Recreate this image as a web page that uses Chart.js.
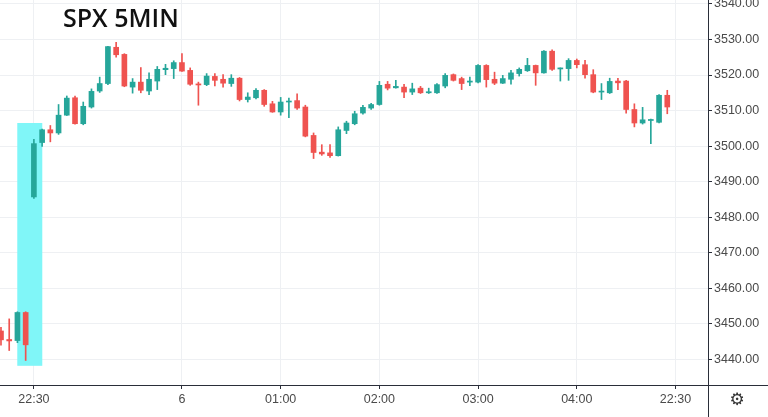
<!DOCTYPE html>
<html>
<head>
<meta charset="utf-8">
<script src="https://cdn.jsdelivr.net/npm/chart.js@4/dist/chart.umd.min.js"></script>
<style>
  html, body { margin: 0; padding: 0; background: #fff; }
  canvas { display: block; }
</style>
</head>
<body>
<canvas id="c" width="768" height="417"></canvas>
<script>
// SPX 5-minute candles
const opens = [3448.0,3445.6,3445.3,3453.2,3485.7,3501.0,3504.6,3503.7,3508.7,3513.6,
  3506.3,3511.0,3515.5,3517.6,3527.8,3525.8,3516.6,3518.0,3515.5,3518.3,
  3521.5,3521.8,3523.5,3521.3,3517.5,3517.3,3519.6,3518.8,3517.6,3519.1,
  3513.1,3513.6,3515.7,3511.9,3509.6,3512.4,3512.8,3511.0,3503.0,3498.3,
  3498.1,3497.3,3504.4,3506.3,3509.3,3510.7,3511.7,3517.4,3516.4,3516.6,
  3515.2,3516.3,3515.0,3515.0,3516.9,3520.1,3519.0,3518.0,3518.0,3522.7,
  3518.8,3517.7,3518.8,3520.4,3521.2,3522.7,3520.6,3526.7,3521.7,3521.8,
  3524.1,3522.9,3520.1,3515.2,3515.0,3518.3,3518.3,3510.3,3506.5,3507.2,
  3506.7,3514.3];
const closes = [3445.5,3445.2,3453.2,3444.1,3500.7,3504.6,3503.7,3508.7,3513.5,3506.3,
  3511.2,3515.4,3517.6,3528.0,3525.7,3516.9,3518.0,3515.7,3518.8,3521.6,
  3521.9,3523.5,3521.1,3517.4,3517.2,3519.7,3518.5,3517.7,3519.1,3513.1,
  3513.8,3515.7,3511.7,3509.6,3512.4,3512.6,3510.7,3502.8,3498.2,3497.8,
  3497.3,3504.6,3506.5,3509.1,3510.9,3511.7,3517.1,3516.3,3516.8,3515.2,
  3516.1,3515.0,3515.3,3517.3,3519.9,3518.5,3517.6,3518.3,3522.7,3518.7,
  3517.7,3519.0,3520.6,3521.6,3522.7,3520.6,3526.7,3521.6,3522.0,3524.1,
  3522.9,3520.1,3515.2,3515.4,3518.2,3517.8,3510.3,3506.5,3507.4,3507.5,
  3514.3,3511.0];
const highs = [3449.0,3451.4,3453.4,3453.4,3501.9,3504.8,3505.8,3511.7,3514.1,3514.1,
  3512.4,3516.1,3519.4,3528.1,3529.2,3526.0,3519.0,3522.1,3520.6,3522.4,
  3523.0,3524.0,3526.0,3522.0,3518.0,3520.4,3520.4,3520.1,3520.1,3519.3,
  3515.0,3516.2,3515.9,3512.6,3513.7,3513.5,3514.7,3511.5,3503.7,3500.4,
  3500.4,3505.4,3507.0,3509.8,3511.5,3512.0,3518.2,3518.2,3518.5,3517.4,
  3517.7,3516.8,3516.3,3517.6,3520.4,3520.3,3519.4,3519.4,3522.9,3522.9,
  3520.8,3519.9,3521.3,3522.0,3524.7,3522.8,3526.9,3527.1,3522.0,3524.6,
  3524.5,3524.1,3521.5,3517.6,3519.1,3519.1,3518.5,3511.9,3510.9,3507.6,
  3514.5,3515.7];
const lows = [3444.0,3442.5,3444.7,3439.7,3485.3,3499.9,3501.2,3503.3,3508.6,3506.2,
  3506.0,3510.7,3515.1,3517.3,3525.0,3516.7,3514.9,3515.0,3514.5,3515.9,
  3520.1,3519.0,3521.0,3517.1,3511.5,3517.0,3516.9,3516.6,3516.8,3512.7,
  3512.4,3513.3,3511.2,3509.5,3508.7,3508.0,3510.3,3502.6,3496.5,3497.4,
  3496.8,3497.2,3503.5,3506.0,3509.0,3510.3,3511.5,3515.8,3516.3,3513.6,
  3514.5,3514.8,3514.8,3514.8,3516.4,3518.3,3515.9,3517.0,3517.8,3516.6,
  3517.3,3517.6,3517.4,3519.7,3521.0,3517.1,3520.5,3521.3,3518.3,3518.5,
  3522.0,3519.1,3515.0,3513.1,3514.8,3515.9,3509.3,3505.4,3506.2,3500.7,
  3506.5,3509.1];

const xTickIdx = [4, 22, 34, 46, 58, 70, 82];
const xTickLabels = ['22:30', '6', '01:00', '02:00', '03:00', '04:00', '22:30'];
const yTicks = [3440, 3450, 3460, 3470, 3480, 3490, 3500, 3510, 3520, 3530, 3540];

// highlighted box around the opening gap (candle index / price)
const hlRange = [1.98, 5.02];
const hlPrice = [3438.2, 3506.5];

const UP = '#26a69a', DOWN = '#ef5350';
const candleColors = opens.map((o, i) => closes[i] >= o ? UP : DOWN);

const bodies = opens.map((o, i) => ({ x: i, y: [o, closes[i]] }));
const wicks = lows.map((l, i) => ({ x: i, y: [l, highs[i]] }));

const highlightPlugin = {
  id: 'highlight',
  beforeDatasetsDraw(chart) {
    const { ctx, scales: { x, y } } = chart;
    const x0 = x.getPixelForValue(hlRange[0]), x1 = x.getPixelForValue(hlRange[1]);
    const y0 = y.getPixelForValue(hlPrice[1]), y1 = y.getPixelForValue(hlPrice[0]);
    ctx.save();
    ctx.fillStyle = '#80f6f8';
    ctx.fillRect(x0, y0, x1 - x0, y1 - y0);
    ctx.restore();
  }
};

const decorPlugin = {
  id: 'decor',
  afterDraw(chart) {
    const { ctx, chartArea } = chart;
    ctx.save();
    ctx.strokeStyle = '#2a2e39';
    ctx.lineWidth = 1;
    ctx.beginPath();
    ctx.moveTo(Math.round(chartArea.right) + 0.5, 0);
    ctx.lineTo(Math.round(chartArea.right) + 0.5, chart.height);
    ctx.moveTo(0, Math.round(chartArea.bottom) + 0.5);
    ctx.lineTo(chart.width, Math.round(chartArea.bottom) + 0.5);
    ctx.stroke();

    // title
    ctx.fillStyle = '#111';
    ctx.font = '600 25px "Open Sans"';
    ctx.textBaseline = 'alphabetic';
    ctx.fillText('SPX 5MIN', 63, 27);

    // settings gear
    ctx.fillStyle = '#333';
    ctx.font = '17px "DejaVu Sans"';
    ctx.textAlign = 'center';
    ctx.textBaseline = 'middle';
    ctx.fillText('⚙', 737, 401);
    ctx.restore();
  }
};

new Chart(document.getElementById('c'), {
  type: 'bar',
  data: {
    datasets: [
      {
        data: wicks,
        backgroundColor: candleColors,
        barThickness: 1,
        grouped: false,
        borderWidth: 0
      },
      {
        data: bodies,
        backgroundColor: candleColors,
        barThickness: 5,
        grouped: false,
        borderWidth: 0,
        minBarLength: 1
      }
    ]
  },
  options: {
    responsive: false,
    animation: false,
    layout: { padding: 0 },
    plugins: {
      legend: { display: false },
      tooltip: { enabled: false }
    },
    scales: {
      x: {
        type: 'linear',
        offset: false,
        min: -0.12,
        max: 85.95,
        afterBuildTicks: s => { s.ticks = xTickIdx.map(v => ({ value: v })); },
        afterFit: s => { s.height = 32; s.paddingLeft = 0; s.paddingRight = 0; },
        grid: {
          offset: false,
          color: '#eef0f3',
          tickColor: '#2a2e39',
          tickLength: 4,
          drawOnChartArea: true
        },
        border: { display: true, color: '#2a2e39' },
        ticks: {
          autoSkip: false,
          maxRotation: 0,
          padding: 3,
          color: '#4a4a4a',
          font: { family: 'Liberation Sans', size: 12.5 },
          callback: v => xTickLabels[xTickIdx.indexOf(v)] ?? ''
        }
      },
      y: {
        position: 'right',
        min: 3432.8,
        max: 3541.1,
        afterBuildTicks: s => { s.ticks = yTicks.map(v => ({ value: v })); },
        afterFit: s => { s.width = 60; s.paddingTop = 0; s.paddingBottom = 0; },
        grid: {
          color: '#eef0f3',
          tickColor: '#2a2e39',
          tickLength: 4
        },
        border: { display: true, color: '#2a2e39' },
        ticks: {
          padding: 2,
          color: '#4a4a4a',
          font: { family: 'Liberation Sans', size: 12.5 },
          callback: v => Number(v).toFixed(2)
        }
      }
    }
  },
  plugins: [highlightPlugin, decorPlugin]
});
</script>
</body>
</html>
